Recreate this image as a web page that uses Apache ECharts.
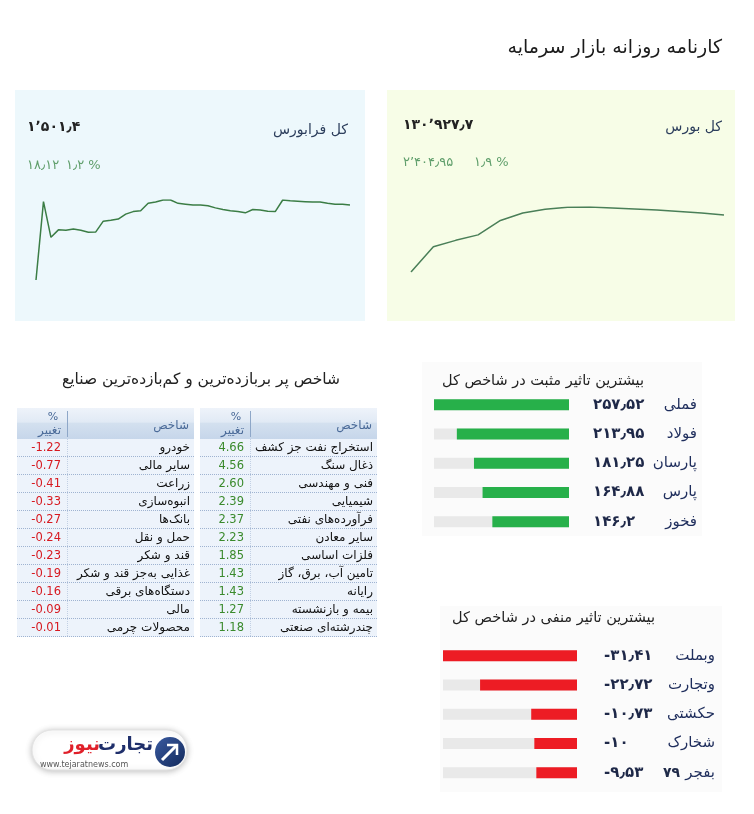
<!DOCTYPE html>
<html><head><meta charset="utf-8">
<script src="https://cdn.jsdelivr.net/npm/echarts@6/dist/echarts.min.js"></script>
<style>html,body{margin:0;padding:0;background:#fff}#c{width:754px;height:814px}</style>
</head><body><div id="c"></div>
<script>
// ---------------- DATA ----------------
const farabourseValues = [1483.3,1502.2,1493.6,1495.4,1495.3,1495.6,1495.3,1494.8,1494.9,1497.5,1497.7,1498.0,1499.2,1499.8,1500.0,1501.8,1502.1,1502.6,1502.6,1501.8,1501.6,1501.4,1501.4,1501.2,1500.7,1500.3,1500.0,1499.8,1499.5,1500.3,1500.2,1499.9,1499.8,1502.6,1502.4,1502.3,1502.2,1502.1,1502.1,1501.8,1501.6,1501.6,1501.4];
const bourseValues = [128522.8,129584.7,129857.5,130088.3,130696.9,131011.6,131166.9,131255.0,131263.5,131221.5,131179.5,131137.6,131074.6,131011.6,130927.7];
const farabourseStats = {label:'کل فرابورس', index:1501.4, change:18.12, pct:1.2};
const bourseStats = {label:'کل بورس', index:130927.7, change:2404.95, pct:1.9};

const posNames = ['فملی','فولاد','پارسان','پارس','فخوز'];
const posValues = [257.52,213.95,181.25,164.88,146.2];
const negNames = ['وبملت','وتجارت','حکشتی','شخارک','بفجر'];
const negValues = [-31.41,-22.72,-10.73,-10,-9.53];

const loserNames = ['خودرو','سایر مالی','زراعت','انبوه‌سازی','بانک‌ها','حمل و نقل','قند و شکر','غذایی به‌جز قند و شکر','دستگاه‌های برقی','مالی','محصولات چرمی'];
const loserValues = [-1.22,-0.77,-0.41,-0.33,-0.27,-0.24,-0.23,-0.19,-0.16,-0.09,-0.01];
const winnerNames = ['استخراج نفت جز کشف','ذغال سنگ','فنی و مهندسی','شیمیایی','فرآورده‌های نفتی','سایر معادن','فلزات اساسی','تامین آب، برق، گاز','رایانه','بیمه و بازنشسته','چندرشته‌ای صنعتی'];
const winnerValues = [4.66,4.56,2.60,2.39,2.37,2.23,1.85,1.43,1.43,1.27,1.18];

const mainTitle = 'کارنامه روزانه بازار سرمایه';
const tableTitle = 'شاخص پر بربازده‌ترین و کم‌بازده‌ترین صنایع';
const posTitle = 'بیشترین تاثیر مثبت در شاخص کل';
const negTitle = 'بیشترین تاثیر منفی در شاخص کل';
const colName = 'شاخص', colPct = '%', colChange = 'تغییر';

// ---------------- HELPERS ----------------
const FA = '"DejaVu Sans", sans-serif';
const faDigits = '۰۱۲۳۴۵۶۷۸۹';
function toFa(v, grouping) {
  let s = String(Math.abs(v));
  let [ip, dp] = s.split('.');
  if (grouping) ip = ip.replace(/\B(?=(\d{3})+(?!\d))/g, '٬');
  s = ip + (dp ? '٫' + dp : '');
  s = s.replace(/\d/g, d => faDigits[+d]);
  return (v < 0 ? '-' : '') + s;
}
function txt(x, y, text, font, fill, align, extra) {
  return Object.assign({type:'text', x:x, y:y, silent:true,
    style:{text:text, font:font, fill:fill, align:align||'left', verticalAlign:'middle',
           textAlign:align||'left', textVerticalAlign:'middle'}}, extra||{});
}

const chart = echarts.init(document.getElementById('c'), null, {renderer:'canvas'});

// table layout constants
const tblHeaderTop = 408, tblHeaderH = 31, rowH = 18, nRows = loserNames.length;
const tblL = {x0:17, x1:194}, tblR = {x0:200, x1:377};
const valColW = 50;

function tableRender(names, vals, color) {
  return function (params, api) {
    const i = params.dataIndex;
    const a = api.coord([0, i]), b = api.coord([1, i]);
    const h = api.size([0, 1])[1];
    const x0 = a[0], x1 = b[0], y = a[1], t = y - h / 2;
    const div = x0 + valColW;
    return {type:'group', children:[
      {type:'rect', shape:{x:x0, y:t, width:x1 - x0, height:h}, style:{fill:'#edf3fb'}},
      {type:'line', shape:{x1:x0, y1:t + h - 0.5, x2:x1, y2:t + h - 0.5}, style:{stroke:'#9fb3d1', lineWidth:1, lineDash:[1,1]}},
      {type:'line', shape:{x1:div + 0.5, y1:t, x2:div + 0.5, y2:t + h}, style:{stroke:'#c2d0e4', lineWidth:1, lineDash:[1,1]}},
      {type:'text', style:{x:div - 6, y:y, text:vals[i].toFixed(2), fill:color, font:'11.5px "DejaVu Sans", sans-serif', align:'right', verticalAlign:'middle', textAlign:'right', textVerticalAlign:'middle'}},
      {type:'text', style:{x:x1 - 4, y:y, text:names[i], fill:'#111', font:'12px ' + FA, align:'right', verticalAlign:'middle', textAlign:'right', textVerticalAlign:'middle'}}
    ]};
  };
}

function header(t) {
  const div = t.x0 + valColW;
  return [
    {type:'rect', shape:{x:t.x0, y:tblHeaderTop, width:t.x1 - t.x0, height:tblHeaderH},
     style:{fill:new echarts.graphic.LinearGradient(0,0,0,1,[{offset:0,color:'#eef3fa'},{offset:0.45,color:'#e1eaf5'},{offset:0.5,color:'#d3e0ef'},{offset:1,color:'#c6d6ea'}])}},
    {type:'line', shape:{x1:div + 0.5, y1:tblHeaderTop + 3, x2:div + 0.5, y2:tblHeaderTop + tblHeaderH - 2}, style:{stroke:'#8ea7c8', lineWidth:1}},
    txt(t.x1 - 5, tblHeaderTop + 18, colName, '12px ' + FA, '#4a6a98', 'right'),
    txt(div - 14, tblHeaderTop + 9, colPct, '11px ' + FA, '#4a6a98', 'center'),
    txt(div - 6, tblHeaderTop + 23, colChange, '12px ' + FA, '#4a6a98', 'right')
  ];
}

const fbCats = farabourseValues.map((v, i) => i);
const bCats = bourseValues.map((v, i) => i);

const graphics = [
  // panels
  {type:'rect', z:-10, shape:{x:15, y:90, width:350, height:231}, style:{fill:'#edf8fc'}},
  {type:'rect', z:-10, shape:{x:387, y:90, width:348, height:231}, style:{fill:'#f7fde7'}},
  {type:'rect', z:-10, shape:{x:422, y:362, width:280, height:174}, style:{fill:'#fbfbfb'}},
  {type:'rect', z:-10, shape:{x:440, y:606, width:282, height:186}, style:{fill:'#fbfbfb'}},
  txt(722, 48, mainTitle, '19px ' + FA, '#1a1a1a', 'right'),
  // farabourse stats
  txt(348, 130, farabourseStats.label, '14px ' + FA, '#2c3e5c', 'right'),
  txt(27, 127, toFa(farabourseStats.index, true), 'bold 14px ' + FA, '#222', 'left'),
  txt(27, 166, toFa(farabourseStats.change), '13px ' + FA, '#5f9e6b', 'left'),
  txt(66, 166, toFa(farabourseStats.pct) + ' %', '13px ' + FA, '#5f9e6b', 'left'),
  // bourse stats
  txt(722, 127, bourseStats.label, '14px ' + FA, '#2c3e5c', 'right'),
  txt(403, 125, toFa(bourseStats.index, true), 'bold 14px ' + FA, '#222', 'left'),
  txt(403, 163, toFa(bourseStats.change, true), '13px ' + FA, '#5f9e6b', 'left'),
  txt(474, 163, toFa(bourseStats.pct) + ' %', '13px ' + FA, '#5f9e6b', 'left'),
  // table title
  txt(201, 380, tableTitle, '15.5px ' + FA, '#222', 'center'),
  // bar titles
  txt(644, 381, posTitle, '14.5px ' + FA, '#222', 'right'),
  txt(655, 618, negTitle, '14.5px ' + FA, '#222', 'right'),
  txt(680, 773, '۷۹', 'bold 14px ' + FA, '#1f2a48', 'right'),
  // logo
  {type:'rect', shape:{x:32, y:730, width:155, height:40, r:20}, style:{fill:'#fff', stroke:'#e3e3e3', shadowBlur:6, shadowColor:'rgba(0,0,0,0.25)', shadowOffsetY:1}},
  {type:'circle', shape:{cx:170, cy:752, r:15}, style:{fill:new echarts.graphic.LinearGradient(0,0,1,1,[{offset:0,color:'#3a5aa0'},{offset:1,color:'#132a5c'}])}},
  {type:'polyline', shape:{points:[[162,760],[176,746]]}, style:{stroke:'#fff', lineWidth:3}},
  {type:'polyline', shape:{points:[[167,745],[177,745],[177,755]]}, style:{stroke:'#fff', lineWidth:2.5, fill:null}},
  txt(153, 745, 'تجارت', 'bold 18px ' + FA, '#1f2f6b', 'right'),
  txt(100, 745, 'نیوز', 'bold 18px ' + FA, '#e0202a', 'right'),
  txt(40, 765, 'www.tejaratnews.com', '8px "DejaVu Sans", sans-serif', '#555', 'left')
].concat(header(tblL), header(tblR));

const option = {
  animation:false,
  backgroundColor:'#ffffff',
  grid:[
    {left:36, top:200, width:314, height:80},
    {left:411, top:207, width:313, height:65},
    {left:434, top:390, width:135, height:146.5},
    {left:443, top:641, width:134, height:146.5},
    {left:tblL.x0, top:tblHeaderTop + tblHeaderH, width:tblL.x1 - tblL.x0, height:rowH * nRows},
    {left:tblR.x0, top:tblHeaderTop + tblHeaderH, width:tblR.x1 - tblR.x0, height:rowH * nRows}
  ],
  xAxis:[
    {gridIndex:0, type:'category', data:fbCats, boundaryGap:false, show:false},
    {gridIndex:1, type:'category', data:bCats, boundaryGap:false, show:false},
    {gridIndex:2, type:'value', inverse:true, min:0, max:Math.max.apply(null, posValues), show:false},
    {gridIndex:3, type:'value', min:Math.min.apply(null, negValues), max:0, show:false},
    {gridIndex:4, type:'value', min:0, max:1, show:false},
    {gridIndex:5, type:'value', min:0, max:1, show:false}
  ],
  yAxis:[
    {gridIndex:0, type:'value', min:'dataMin', max:'dataMax', show:false},
    {gridIndex:1, type:'value', min:'dataMin', max:'dataMax', show:false},
    {gridIndex:2, type:'category', data:posNames, inverse:true, position:'right',
     axisLine:{show:false}, axisTick:{show:false},
     axisLabel:{margin:128, align:'right', color:'#1e2d5c', fontSize:15, fontFamily:FA, padding:[0,0,8,0]}},
    {gridIndex:2, type:'category', data:posValues.map(v => toFa(v)), inverse:true, position:'right',
     axisLine:{show:false}, axisTick:{show:false},
     axisLabel:{margin:24, align:'left', color:'#1e2848', fontSize:15, fontWeight:'bold', fontFamily:FA}},
    {gridIndex:3, type:'category', data:negNames, inverse:true, position:'right',
     axisLine:{show:false}, axisTick:{show:false},
     axisLabel:{margin:138, align:'right', color:'#1e2d5c', fontSize:15, fontFamily:FA, padding:[0,0,6,0]}},
    {gridIndex:3, type:'category', data:negValues.map(v => toFa(v)), inverse:true, position:'right',
     axisLine:{show:false}, axisTick:{show:false},
     axisLabel:{margin:27, align:'left', color:'#1e2848', fontSize:15, fontWeight:'bold', fontFamily:FA}},
    {gridIndex:4, type:'category', data:loserNames, inverse:true, show:false},
    {gridIndex:5, type:'category', data:winnerNames, inverse:true, show:false}
  ],
  series:[
    {type:'line', xAxisIndex:0, yAxisIndex:0, data:farabourseValues, showSymbol:false, symbol:'none',
     lineStyle:{color:'#3b7d45', width:1.5}},
    {type:'line', xAxisIndex:1, yAxisIndex:1, data:bourseValues, showSymbol:false, symbol:'none',
     lineStyle:{color:'#4a7f58', width:1.5}},
    {type:'bar', xAxisIndex:2, yAxisIndex:2, data:posValues, barWidth:11, showBackground:true,
     backgroundStyle:{color:'#e9e9e9'}, itemStyle:{color:'#27b04a'}},
    {type:'bar', xAxisIndex:3, yAxisIndex:4, data:negValues, barWidth:11, showBackground:true,
     backgroundStyle:{color:'#e9e9e9'}, itemStyle:{color:'#ed1c24'}},
    {type:'custom', xAxisIndex:4, yAxisIndex:6, renderItem:tableRender(loserNames, loserValues, '#d71920'),
     data:loserNames.map((n, i) => [0, i]), encode:{x:0, y:1}},
    {type:'custom', xAxisIndex:5, yAxisIndex:7, renderItem:tableRender(winnerNames, winnerValues, '#3a8a2c'),
     data:winnerNames.map((n, i) => [0, i]), encode:{x:0, y:1}}
  ],
  graphic:graphics
};
chart.setOption(option);
</script>
</body></html>
